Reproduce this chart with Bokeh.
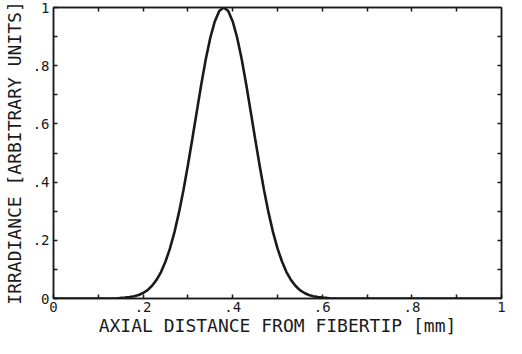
from bokeh.plotting import figure
from bokeh.models import Range1d, LinearAxis, FixedTicker
from bokeh.embed import file_html
from bokeh.resources import INLINE

# Axial distance from fibertip (mm) and irradiance (arbitrary units)
distance = [0.00, 0.10, 0.14, 0.15, 0.16, 0.17, 0.18, 0.19, 0.20, 0.21, 0.22, 0.23, 0.24,
            0.25, 0.26, 0.27, 0.28, 0.29, 0.30, 0.31, 0.32, 0.33, 0.34, 0.35, 0.36,
            0.37, 0.38, 0.39, 0.40, 0.41, 0.42, 0.43, 0.44, 0.45, 0.46, 0.47, 0.48,
            0.49, 0.50, 0.51, 0.52, 0.53, 0.54, 0.55, 0.56, 0.57, 0.58, 0.59, 0.60,
            0.61, 0.62, 0.70, 0.80, 1.00]
irradiance = [0.000, 0.000, 0.000, 0.002, 0.003, 0.005, 0.008, 0.012, 0.019, 0.029, 0.044,
              0.064, 0.091, 0.127, 0.172, 0.228, 0.295, 0.372, 0.458, 0.550, 0.644,
              0.737, 0.823, 0.896, 0.952, 0.988, 1.000, 0.988, 0.952, 0.896, 0.823,
              0.737, 0.644, 0.550, 0.458, 0.372, 0.295, 0.228, 0.172, 0.127, 0.091,
              0.064, 0.044, 0.029, 0.019, 0.012, 0.008, 0.005, 0.003, 0.002, 0.000,
              0.000, 0.000, 0.000]

tick_values = [0, 0.2, 0.4, 0.6, 0.8, 1]
tick_labels = ["0", ".2", ".4", ".6", ".8", "1"]
minor_values = [0.1, 0.3, 0.5, 0.7, 0.9]
all_tick_values = [0.1, 0.2, 0.3, 0.4, 0.5, 0.6, 0.7, 0.8, 0.9]

x_title = "AXIAL DISTANCE FROM FIBERTIP [mm]"
y_title = "IRRADIANCE [ARBITRARY UNITS]"

INK = "#1a1a1a"
FONT = "DejaVu Sans Mono"

p = figure(width=506, height=338, output_backend="svg", toolbar_location=None,
           x_range=Range1d(0, 1), y_range=Range1d(0, 1),
           min_border_left=49, min_border_right=5, min_border_top=7, min_border_bottom=0)
p.background_fill_color = "white"
p.border_fill_color = "white"
p.grid.visible = False
p.outline_line_color = INK
p.outline_line_width = 1.5

p.line(distance, irradiance, line_color=INK, line_width=2.6)

overrides = {v: s for v, s in zip(tick_values, tick_labels)}


def style(ax, labels=True):
    ax.axis_line_color = INK
    ax.axis_line_width = 1.5
    ax.major_tick_in = 4
    ax.major_tick_out = 0
    ax.minor_tick_in = 4
    ax.minor_tick_out = 0
    ax.major_tick_line_color = INK
    ax.minor_tick_line_color = INK
    ax.major_tick_line_width = 1.5
    ax.minor_tick_line_width = 1.5
    if labels:
        ax.ticker = FixedTicker(ticks=tick_values, minor_ticks=minor_values)
        ax.major_label_overrides = overrides
        ax.major_label_text_font = FONT
        ax.major_label_text_font_size = "14px"
        ax.major_label_text_color = INK
        ax.axis_label_text_font = FONT
        ax.axis_label_text_font_size = "18px"
        ax.axis_label_text_font_style = "normal"
        ax.axis_label_text_color = INK
    else:
        # ticks only, no labels: every tick is a "minor" tick
        ax.ticker = FixedTicker(ticks=[], minor_ticks=all_tick_values)
        ax.major_label_standoff = 0


style(p.xaxis[0])
style(p.yaxis[0])
p.xaxis[0].axis_label = x_title
p.yaxis[0].axis_label = y_title
p.xaxis[0].major_label_standoff = 3
p.xaxis[0].axis_label_standoff = 0
p.yaxis[0].major_label_standoff = 4
p.yaxis[0].axis_label_standoff = 5

top = LinearAxis()
style(top, labels=False)
p.add_layout(top, "above")
right = LinearAxis()
style(right, labels=False)
p.add_layout(right, "right")

open("out.html", "w").write(file_html(p, INLINE))
